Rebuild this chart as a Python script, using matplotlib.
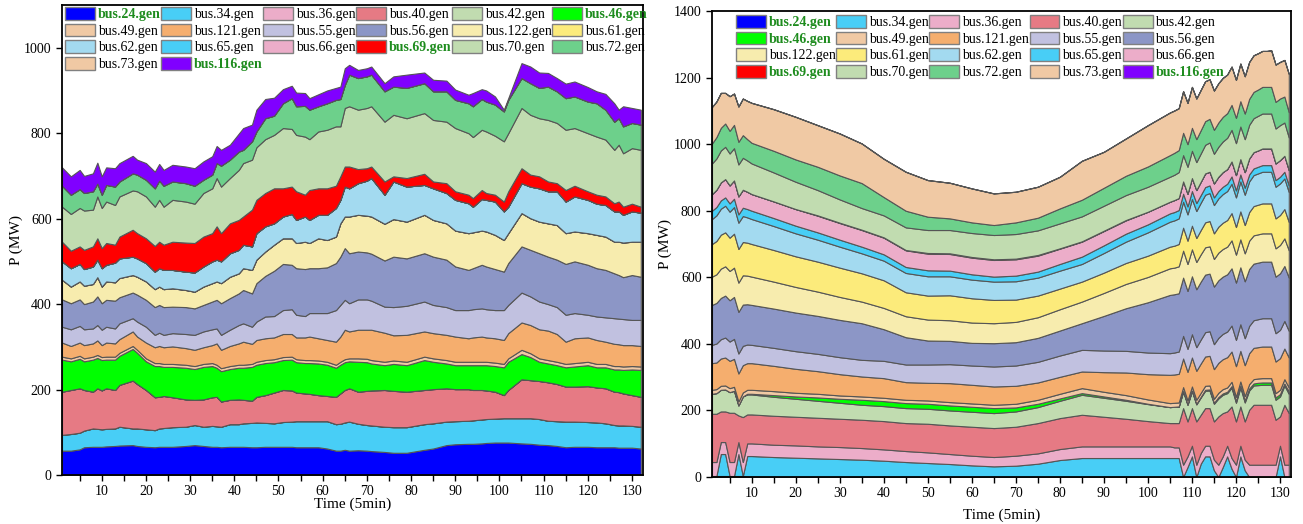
import numpy as np
import matplotlib
matplotlib.use("Agg")
import matplotlib.pyplot as plt
from matplotlib.patches import Patch

plt.rcParams['font.family'] = ['Liberation Serif', 'DejaVu Serif']

names = ['bus.24.gen', 'bus.34.gen', 'bus.36.gen', 'bus.40.gen', 'bus.42.gen',
         'bus.46.gen', 'bus.49.gen', 'bus.121.gen', 'bus.55.gen', 'bus.56.gen',
         'bus.122.gen', 'bus.61.gen', 'bus.62.gen', 'bus.65.gen', 'bus.66.gen',
         'bus.69.gen', 'bus.70.gen', 'bus.72.gen', 'bus.73.gen', 'bus.116.gen']
colors = ['#0000FF', '#48CEF6', '#ECADC9', '#E67A84', '#C1DCB0',
          '#00FF00', '#F0C9A4', '#F5AE6E', '#C1C1E0', '#8C96C6',
          '#F7ECAE', '#FCEB7B', '#A3DAF0', '#48CEF6', '#ECADC9',
          '#FF0000', '#C1DCB0', '#6DD08B', '#F0C9A4', '#8000FF']
bold_green = {'bus.24.gen', 'bus.46.gen', 'bus.69.gen', 'bus.116.gen'}

# ---------------- Left chart: cumulative stack tops (MW) ----------------
left_x = [1, 3, 5, 6, 8, 9, 10, 11, 13, 14, 17, 18, 20, 22, 23, 24, 26, 29, 31, 33, 35, 36, 37, 39, 41,
          42, 44, 45, 47, 49, 51, 53, 54, 56, 57, 59, 61, 63, 64, 65, 66,
          68, 70, 71, 74, 76, 79, 83, 85, 88, 90, 93, 94, 96, 97, 99, 101, 102, 105, 107, 109, 111,
          113, 115, 117, 120, 122, 124, 126, 127, 128, 130, 132]
L_top_24 = [57, 57, 60, 65, 66, 66, 66, 67, 68, 69, 70, 68, 66, 65, 66, 66, 66, 68, 70, 68, 66, 66, 65, 66, 66,
            66, 65, 65, 66, 66, 66, 66, 65, 65, 65, 65, 62, 57, 57, 59, 57,
            58, 57, 56, 54, 52, 52, 59, 62, 70, 72, 73, 73, 74, 75, 76, 76, 76, 74, 73, 71, 70,
            68, 65, 66, 66, 65, 65, 65, 64, 64, 64, 62]
L_top_34 = [94, 96, 99, 104, 109, 108, 107, 108, 109, 113, 109, 109, 107, 105, 109, 110, 112, 113, 117, 113, 115, 114, 113, 119, 119,
            121, 122, 123, 122, 121, 124, 125, 126, 126, 126, 126, 126, 119, 120, 123, 125,
            120, 117, 116, 113, 112, 112, 119, 121, 125, 126, 127, 128, 130, 131, 132, 133, 133, 133, 133, 131, 127,
            126, 125, 125, 124, 123, 121, 117, 116, 116, 115, 113]
L_top_40 = [195, 199, 203, 199, 195, 203, 198, 203, 199, 211, 221, 213, 199, 182, 183, 185, 182, 177, 176, 177, 182, 183, 172, 176, 177,
            176, 174, 183, 187, 193, 199, 198, 193, 191, 190, 187, 185, 183, 191, 199, 203,
            195, 197, 198, 199, 197, 195, 199, 201, 203, 201, 201, 199, 199, 198, 195, 187, 199, 224, 222, 220, 217,
            213, 207, 207, 208, 205, 203, 195, 194, 191, 187, 183]
L_top_46 = [270, 266, 272, 266, 270, 274, 269, 270, 270, 279, 295, 286, 266, 255, 255, 253, 253, 251, 248, 253, 255, 251, 243, 248, 251,
            251, 253, 258, 262, 264, 269, 270, 264, 262, 262, 261, 258, 251, 258, 264, 266,
            265, 264, 261, 257, 260, 257, 269, 265, 261, 257, 257, 257, 257, 257, 255, 252, 265, 283, 276, 265, 261,
            257, 252, 254, 257, 252, 252, 247, 247, 246, 247, 246]
L_top_49 = [277, 273, 279, 273, 277, 281, 276, 277, 277, 286, 302, 293, 273, 262, 262, 260, 260, 258, 255, 260, 262, 258, 250, 255, 258,
            258, 260, 265, 269, 271, 276, 277, 271, 269, 269, 268, 265, 258, 265, 271, 273,
            273, 272, 269, 265, 268, 265, 277, 273, 269, 265, 265, 265, 265, 265, 263, 260, 273, 293, 285, 273, 269,
            265, 260, 262, 265, 260, 260, 255, 255, 254, 255, 254]
L_top_121 = [310, 302, 310, 304, 308, 315, 304, 310, 308, 318, 336, 324, 310, 299, 302, 299, 301, 297, 293, 299, 304, 308, 293, 302, 308,
             312, 307, 316, 320, 322, 330, 330, 322, 322, 324, 320, 316, 312, 324, 340, 336,
             340, 340, 340, 333, 327, 328, 336, 332, 328, 324, 320, 322, 324, 322, 320, 316, 332, 357, 351, 341, 338,
             330, 312, 320, 322, 316, 312, 307, 306, 304, 304, 302]
L_top_55 = [347, 341, 349, 341, 343, 351, 340, 347, 343, 355, 367, 359, 347, 328, 333, 328, 332, 330, 328, 336, 341, 343, 328, 340, 351,
            355, 347, 359, 371, 372, 386, 388, 375, 372, 379, 379, 379, 386, 398, 410, 402,
            411, 411, 408, 394, 393, 396, 406, 398, 393, 386, 386, 388, 390, 388, 386, 386, 398, 427, 418, 406, 400,
            393, 375, 379, 375, 371, 369, 367, 366, 365, 363, 363]
L_top_56 = [411, 402, 411, 400, 406, 418, 402, 410, 408, 416, 427, 422, 410, 393, 398, 393, 394, 393, 390, 398, 406, 410, 402, 414, 425,
            433, 425, 449, 466, 478, 494, 492, 484, 482, 484, 484, 486, 496, 511, 531, 519,
            523, 521, 518, 502, 511, 507, 519, 511, 504, 488, 480, 484, 492, 488, 482, 476, 496, 535, 527, 519, 511,
            504, 494, 500, 492, 484, 480, 472, 468, 463, 468, 464]
L_top_122 = [457, 441, 453, 443, 447, 463, 441, 453, 451, 461, 468, 464, 453, 435, 441, 435, 437, 433, 429, 441, 449, 453, 449, 464, 472,
             484, 480, 504, 523, 539, 554, 554, 543, 546, 543, 554, 550, 558, 589, 605, 605,
             609, 607, 605, 588, 599, 593, 609, 597, 589, 572, 566, 568, 572, 570, 562, 550, 566, 613, 601, 593, 589,
             585, 566, 570, 566, 562, 558, 546, 546, 544, 546, 546]
L_top_62 = [500, 484, 494, 482, 488, 504, 484, 492, 497, 507, 511, 507, 496, 476, 484, 480, 480, 476, 474, 488, 500, 504, 500, 519, 527,
            539, 535, 566, 582, 589, 605, 611, 597, 605, 597, 609, 609, 625, 644, 675, 671,
            683, 689, 695, 656, 687, 675, 679, 671, 660, 644, 636, 628, 646, 644, 640, 617, 628, 683, 675, 671, 664,
            664, 640, 652, 644, 635, 632, 617, 617, 609, 617, 614]
L_top_69 = [546, 525, 535, 527, 535, 554, 531, 543, 539, 558, 574, 566, 554, 536, 546, 539, 546, 544, 543, 558, 566, 582, 566, 589, 597,
            605, 621, 644, 660, 671, 671, 675, 664, 656, 667, 671, 671, 677, 699, 722, 722,
            716, 718, 722, 687, 699, 695, 705, 687, 683, 664, 656, 648, 667, 660, 656, 640, 664, 718, 703, 699, 687,
            683, 667, 677, 664, 656, 652, 636, 640, 628, 635, 628]
L_top_70 = [628, 611, 625, 619, 621, 652, 625, 640, 632, 652, 666, 664, 652, 628, 644, 628, 644, 640, 635, 660, 671, 695, 675, 695, 714,
            730, 738, 767, 786, 796, 812, 810, 796, 792, 786, 804, 808, 816, 816, 859, 863,
            855, 859, 863, 827, 843, 835, 847, 831, 827, 812, 800, 791, 808, 804, 794, 781, 800, 859, 843, 835, 831,
            824, 808, 812, 800, 792, 785, 761, 773, 753, 765, 761]
L_top_72 = [677, 656, 669, 660, 664, 682, 656, 679, 675, 687, 706, 703, 691, 671, 689, 677, 687, 683, 677, 691, 703, 730, 724, 738, 757,
            761, 781, 804, 835, 841, 870, 882, 863, 864, 855, 863, 870, 878, 880, 913, 937,
            929, 933, 937, 898, 909, 906, 917, 898, 898, 878, 870, 863, 880, 874, 867, 851, 878, 929, 917, 906, 909,
            898, 882, 886, 874, 870, 855, 827, 835, 816, 824, 820]
L_top_116 = [720, 699, 714, 700, 706, 731, 699, 720, 718, 730, 747, 738, 730, 710, 728, 714, 726, 722, 718, 734, 746, 770, 761, 773, 799,
             812, 820, 855, 880, 883, 903, 911, 895, 894, 882, 891, 900, 906, 909, 952, 960,
             948, 952, 956, 917, 933, 937, 942, 925, 923, 902, 890, 894, 903, 900, 886, 855, 882, 964, 956, 942, 941,
             929, 916, 921, 908, 898, 892, 870, 855, 863, 859, 855]
# series that are (practically) zero in the left case are given as None
left_tops = [L_top_24, L_top_34, None, L_top_40, None, L_top_46, L_top_49, L_top_121, L_top_55, L_top_56,
             L_top_122, None, L_top_62, None, None, L_top_69, L_top_70, L_top_72, None, L_top_116]

# ---------------- Right chart: per-generator output (MW) ----------------
right_x = [1, 2, 3, 4, 5, 6, 7, 8, 9, 10,
           15, 20, 25, 30, 35, 40, 45, 50, 55, 60, 65, 70, 75, 80, 85, 90, 95, 100, 105,
           106, 107, 108, 109, 110, 111, 112, 113, 114, 115, 116, 117, 118, 119, 120, 121, 122,
           123, 124, 125, 126, 127, 128, 129, 130, 131, 132]
R_24 = ([3, 3, 3, 3, 3, 3, 3, 3, 1, 1] + [0] * 19 + [0] * 27)
R_34 = ([0, 0, 66, 66, 0, 0, 66, 0, 62, 62]
        + [60, 58, 56, 54, 52, 49, 45, 42, 39, 35, 32, 34, 40, 51, 57, 57, 57, 57, 57]
        + [57, 57, 0, 30, 62, 0, 40, 62, 62, 20, 0, 30, 62, 25, 0, 62, 20, 0, 0, 0, 0, 0, 0, 0, 62, 0, 0])
R_36 = ([42, 42, 36, 36, 42, 42, 36, 42, 38, 38]
        + [37, 37, 36, 36, 35, 34, 33, 32, 30, 29, 28, 30, 31, 33, 35, 35, 35, 35, 35]
        + [32, 32, 37, 32, 32, 37, 32, 32, 32, 32, 37, 32, 32, 32, 37, 32, 32, 37, 37, 37, 37, 37, 37, 37, 32, 37, 37])
R_40 = ([145, 145, 92, 92, 148, 148, 80, 135, 87, 87]
        + [87, 86, 86, 85, 85, 85, 84, 86, 86, 87, 87, 87, 91, 93, 95, 89, 83, 76, 70]
        + [73, 73, 170, 105, 113, 130, 115, 113, 113, 115, 145, 130, 103, 155, 130, 118, 115, 165, 180, 180, 180, 180, 180, 135, 88, 180, 155])
R_42 = ([60, 62, 65, 66, 62, 66, 30, 62, 60, 60]
        + [57, 54, 51, 48, 45, 45, 45, 45, 45, 45, 45, 46, 48, 52, 60, 57, 54, 51, 48]
        + [49, 49, 50, 50, 51, 51, 52, 52, 53, 53, 54, 55, 55, 56, 56, 57, 57, 58, 58, 59, 60, 60, 60, 60, 60, 58, 58])
R_46 = ([0, 0, 0, 0, 0, 0, 0, 0, 2, 2]
        + [5, 7, 10, 12, 15, 15, 15, 15, 15, 15, 15, 12, 10, 7, 5, 4, 3, 1, 0]
        + [0, 1, 1, 1, 2, 2, 2, 3, 3, 3, 4, 4, 4, 5, 5, 5, 6, 6, 6, 7, 7, 7, 7, 7, 7, 6, 6])
R_49 = ([12, 12, 12, 12, 12, 12, 12, 12, 12, 12]
        + [12, 11, 11, 10, 10, 10, 10, 10, 10, 10, 10, 11, 12, 14, 15, 14, 14, 13, 12]
        + [12, 12, 12, 12, 12, 12, 12, 12, 12, 12, 13, 13, 13, 13, 13, 13, 13, 13, 13, 13, 13, 13, 13, 13, 13, 13, 13])
R_121 = ([80, 80, 82, 84, 82, 84, 84, 82, 80, 80]
         + [76, 72, 68, 64, 60, 59, 53, 53, 57, 56, 55, 54, 52, 51, 50, 59, 68, 76, 85]
         + [85, 86, 86, 86, 87, 87, 88, 88, 89, 89, 90, 90, 91, 91, 92, 92, 93, 93, 94, 94, 95, 95, 95, 95, 95, 92, 90])
R_55 = ([55, 57, 58, 60, 58, 60, 60, 58, 56, 55]
        + [54, 53, 52, 51, 50, 52, 53, 55, 57, 58, 60, 61, 62, 64, 65, 65, 65, 65, 65]
        + [66, 67, 68, 69, 70, 71, 72, 73, 74, 75, 75, 76, 77, 78, 79, 80, 81, 82, 83, 84, 85, 85, 85, 85, 85, 83, 80])
R_56 = ([120, 122, 124, 126, 124, 126, 125, 124, 121, 120]
        + [118, 116, 114, 112, 110, 95, 82, 72, 70, 68, 70, 70, 72, 75, 80, 104, 128, 151, 175]
        + [175, 175, 175, 174, 174, 174, 174, 173, 173, 173, 173, 172, 172, 172, 172, 171, 171, 171, 170, 170, 170, 170, 170, 170, 170, 165, 160])
R_122 = ([85, 86, 88, 88, 88, 88, 88, 88, 86, 85]
         + [81, 77, 73, 69, 65, 64, 63, 63, 62, 61, 60, 61, 62, 64, 65, 69, 73, 76, 80]
         + [80, 81, 81, 81, 81, 82, 82, 82, 82, 83, 83, 83, 83, 84, 84, 84, 84, 85, 85, 85, 85, 85, 85, 85, 85, 83, 82])
R_61 = ([98, 100, 102, 102, 100, 102, 101, 100, 99, 98]
        + [95, 92, 90, 88, 85, 83, 72, 72, 75, 73, 70, 67, 65, 62, 60, 61, 63, 64, 65]
        + [66, 67, 69, 70, 71, 72, 73, 75, 76, 77, 78, 79, 80, 82, 83, 84, 85, 86, 88, 89, 90, 90, 90, 90, 90, 88, 85])
R_62 = ([75, 77, 78, 80, 78, 80, 79, 78, 76, 75]
        + [72, 69, 66, 63, 60, 59, 58, 58, 57, 56, 55, 55, 54, 54, 53, 59, 64, 70, 75]
        + [76, 77, 78, 79, 80, 81, 82, 83, 84, 85, 85, 86, 87, 88, 89, 90, 91, 92, 93, 94, 95, 95, 95, 95, 95, 92, 90])
R_65 = ([25, 25, 25, 25, 25, 25, 25, 25, 25, 25]
        + [24, 23, 22, 21, 20, 19, 18, 18, 17, 16, 15, 17, 18, 20, 22, 23, 24, 24, 25]
        + [25, 25, 24, 24, 24, 24, 23, 23, 23, 23, 22, 22, 22, 22, 21, 21, 21, 21, 20, 20, 20, 20, 20, 20, 20, 20, 20])
R_66 = ([50, 52, 54, 55, 54, 55, 54, 54, 52, 50]
        + [50, 50, 50, 50, 50, 50, 50, 50, 50, 50, 50, 49, 48, 46, 45, 43, 40, 38, 35]
        + [36, 36, 37, 38, 39, 39, 40, 41, 41, 42, 43, 44, 44, 45, 46, 46, 47, 48, 49, 49, 50, 50, 50, 50, 50, 48, 46])
R_69 = ([0] * 10
        + [0, 0, 1, 1, 1, 1, 1, 2, 2, 2, 2, 2, 2, 1, 1, 1, 1, 0, 0]
        + [0] * 27)
R_70 = ([92, 94, 96, 97, 96, 97, 96, 96, 94, 92]
        + [87, 82, 76, 70, 65, 66, 68, 69, 70, 72, 73, 74, 74, 75, 75, 75, 75, 75, 75]
        + [76, 78, 79, 81, 82, 84, 85, 86, 88, 89, 90, 92, 94, 95, 96, 98, 99, 101, 102, 104, 105, 105, 105, 105, 105, 100, 98])
R_72 = ([60, 64, 68, 70, 68, 70, 68, 68, 64, 62]
        + [65, 67, 70, 72, 75, 55, 50, 40, 35, 32, 30, 35, 38, 45, 50, 54, 58, 61, 65]
        + [66, 66, 67, 68, 69, 69, 70, 71, 71, 72, 73, 74, 74, 75, 76, 76, 77, 78, 79, 79, 80, 80, 80, 80, 80, 78, 76])
R_73 = ([110, 107, 105, 92, 104, 94, 106, 110, 115, 120]
        + [125, 128, 125, 126, 119, 115, 117, 110, 107, 102, 95, 92, 93, 95, 117, 108, 112, 124, 128]
        + [127, 126, 125, 124, 123, 122, 121, 120, 119, 118, 118, 117, 116, 115, 114, 113, 112, 111, 110, 109, 108, 108, 110, 112, 110, 110, 115])
R_116 = [0] * 56
right_vals = [R_24, R_34, R_36, R_40, R_42, R_46, R_49, R_121, R_55, R_56,
              R_122, R_61, R_62, R_65, R_66, R_69, R_70, R_72, R_73, R_116]

# ---------------- build left values from stack tops ----------------
n_left = len(left_x)
prev = np.zeros(n_left)
left_vals = []
for t in left_tops:
    cur = prev if t is None else np.maximum(np.array(t, float), prev)
    left_vals.append(cur - prev)
    prev = cur

W, H = 1303, 524
fig = plt.figure(figsize=(W / 100, H / 100), dpi=100)
axL = fig.add_axes([62 / W, 1 - 475 / H, 581 / W, 470 / H])
axR = fig.add_axes([712 / W, 1 - 477 / H, 579 / W, 466 / H])

edge = '#555555'
axL.stackplot(left_x, np.array(left_vals), colors=colors, edgecolor=edge, linewidth=0.8)
axR.stackplot(right_x, np.array(right_vals, float), colors=colors, edgecolor=edge, linewidth=0.8)

axL.set_xlim(1, 132.5)
axL.set_ylim(0, 1100)
axR.set_xlim(1, 132.5)
axR.set_ylim(0, 1400)

for ax, ymax, xpad in ((axL, 1000, -0.5), (axR, 1400, 6)):
    ax.set_xticks(np.arange(10, 131, 10))
    ax.set_xticks(np.arange(5, 133, 5), minor=True)
    ax.set_yticks(np.arange(0, ymax + 1, 200))
    ax.tick_params(which='both', direction='out', length=4, width=1, labelsize=10)
    for s in ax.spines.values():
        s.set_linewidth(1.3)
    ax.set_xlabel('Time (5min)', fontsize=11, labelpad=xpad)
    ax.set_ylabel('P (MW)', fontsize=11, labelpad=1)


def add_legend(ax, ncol, anchor):
    hs = [Patch(facecolor=c, edgecolor='#808080', linewidth=1.0) for c in colors]
    n = len(names)
    order = []
    for c in range(ncol):
        order.extend(list(range(c, n, ncol)))
    leg = ax.legend([hs[i] for i in order], [names[i] for i in order], ncol=ncol,
                    loc='upper left', bbox_to_anchor=anchor, bbox_transform=fig.transFigure,
                    frameon=False, fontsize=10, handlelength=2.15, handleheight=1.05,
                    handletextpad=0.2, columnspacing=0.05, labelspacing=0.17,
                    borderpad=0.0, borderaxespad=0.0)
    for txt in leg.get_texts():
        if txt.get_text() in bold_green:
            txt.set_color('#1E8C1E')
            txt.set_fontweight('bold')
    return leg


add_legend(axL, 6, (65 / W, 1 - 7 / H))
add_legend(axR, 5, (736 / W, 1 - 15 / H))

fig.savefig('out.png', dpi=100)
